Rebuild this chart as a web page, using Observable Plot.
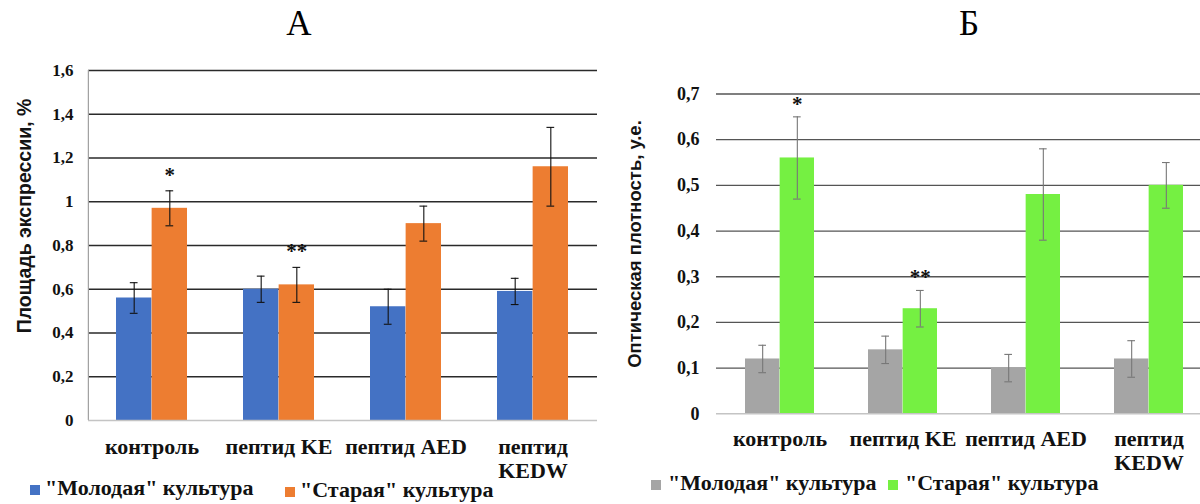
<!DOCTYPE html>
<html>
<head>
<meta charset="utf-8">
<script src="https://cdn.jsdelivr.net/npm/d3@7"></script>
<script src="https://cdn.jsdelivr.net/npm/@observablehq/plot@0.6"></script>
<style>
  html, body { margin: 0; padding: 0; background: #fff; overflow: hidden; }
  #root { position: relative; width: 1200px; height: 504px; overflow: hidden; background: #fff; }
  .panel { position: absolute; top: 58px; }
  .panel svg { max-width: none !important; display: block; }
  .title { position: absolute; top: 4px; font-family: 'Liberation Serif', 'Times New Roman', serif; font-size: 35px; line-height: 40px; color: #000; transform: translateX(-50%); }
  .ylabel { position: absolute; font-family: 'Liberation Sans', Arial, sans-serif; font-weight: bold; color: #141414; white-space: nowrap; transform: translate(-50%, -50%) rotate(-90deg); }
  .lgitem { position: absolute; display: flex; align-items: baseline; font-family: 'Liberation Serif', 'Times New Roman', serif; font-weight: bold; font-size: 22px; line-height: 22px; color: #111; white-space: nowrap; }
  .lgitem .sw { display: inline-block; width: 10px; height: 10px; }
</style>
</head>
<body>
<div id="root"></div>
<script>
// ---- data ----
const categories = ["контроль", "пептид KE", "пептид AED", "пептид KEDW"];
const categoryLabels = ["контроль", "пептид KE", "пептид AED", "пептид\nKEDW"];
const seriesNames = ['"Молодая" культура', '"Старая" культура'];

// Panel А: Площадь экспрессии, %
const youngA = [0.56, 0.60, 0.52, 0.59];
const youngAErr = [0.07, 0.06, 0.08, 0.06];
const oldA = [0.97, 0.62, 0.90, 1.16];
const oldAErr = [0.08, 0.08, 0.08, 0.18];
const sigA = ["*", "**", "", ""];
const yTicksA = [0, 0.2, 0.4, 0.6, 0.8, 1.0, 1.2, 1.4, 1.6];

// Panel Б: Оптическая плотность, у.е.
const youngB = [0.12, 0.14, 0.10, 0.12];
const youngBErr = [0.03, 0.03, 0.03, 0.04];
const oldB = [0.56, 0.23, 0.48, 0.50];
const oldBErr = [0.09, 0.04, 0.10, 0.05];
const sigB = ["*", "**", "", ""];
const yTicksB = [0, 0.1, 0.2, 0.3, 0.4, 0.5, 0.6, 0.7];

const titleA = "А";
const titleB = "Б";
const yLabelA = "Площадь экспрессии, %";
const yLabelB = "Оптическая плотность, у.е.";

const fmt = d => String(+d.toFixed(2)).replace(".", ",");

function rows(values, errs, sig) {
  return categories.map((c, i) => ({
    cat: c, value: values[i], lo: values[i] - errs[i], hi: values[i] + errs[i], sig: sig ? sig[i] : ""
  }));
}

function panel(o) {
  const pi = 0.44, po = 0.22;
  const W = o.width - o.ml - o.mr;
  const step = W / (categories.length - pi + 2 * po);
  const bw = step * (1 - pi);
  const half = bw / 2, q = bw / 4, cap = 4;
  const young = rows(o.young, o.youngErr);
  const old = rows(o.old, o.oldErr, o.sig);
  const marks = [
    Plot.ruleY(o.ticks.filter(t => t > 0), {stroke: o.grid, strokeWidth: 1.3}),
    Plot.barY(young, {x: "cat", y: "value", fill: o.colors[0], insetRight: half}),
    Plot.barY(old, {x: "cat", y: "value", fill: o.colors[1], insetLeft: half}),
    Plot.ruleY([0], {stroke: "#c4c4c4", strokeWidth: 1.5}),
    Plot.ruleX(young, {x: "cat", y1: "lo", y2: "hi", dx: -q, stroke: o.err, strokeWidth: 1.1}),
    Plot.ruleX(old, {x: "cat", y1: "lo", y2: "hi", dx: q, stroke: o.err, strokeWidth: 1.1}),
    Plot.tickY(young, {x: "cat", y: "hi", insetLeft: q - cap, insetRight: 3 * q - cap, stroke: o.err, strokeWidth: 1.1}),
    Plot.tickY(young, {x: "cat", y: "lo", insetLeft: q - cap, insetRight: 3 * q - cap, stroke: o.err, strokeWidth: 1.1}),
    Plot.tickY(old, {x: "cat", y: "hi", insetLeft: 3 * q - cap, insetRight: q - cap, stroke: o.err, strokeWidth: 1.1}),
    Plot.tickY(old, {x: "cat", y: "lo", insetLeft: 3 * q - cap, insetRight: q - cap, stroke: o.err, strokeWidth: 1.1}),
    Plot.text(old.filter(d => d.sig), {x: "cat", y: "hi", text: "sig", dx: q, dy: o.sigDy, lineAnchor: "middle", fontSize: 21, fontWeight: "bold", fill: "#111"}),
    Plot.axisY({ticks: o.ticks, tickFormat: fmt, tickSize: 0, tickPadding: o.tp, fontSize: o.tickFont, label: null}),
    Plot.axisX({tickSize: 0, tickPadding: o.xtp, fontSize: 22, label: null, lineHeight: 1.1,
      tickFormat: d => categoryLabels[categories.indexOf(d)]})
  ];
  if (o.leftLine) {
    marks.splice(1, 0, Plot.ruleX([categories[0]], {dx: -(half + po * step), y1: 0, y2: o.ticks[o.ticks.length - 1], stroke: "#a0a0a0", strokeWidth: 1.2}));
  }
  return Plot.plot({
    width: o.width, height: o.height,
    marginLeft: o.ml, marginRight: o.mr, marginTop: o.mt, marginBottom: o.mb,
    x: {domain: categories, paddingInner: pi, paddingOuter: po, label: null},
    y: {domain: [0, o.ticks[o.ticks.length - 1]], label: null},
    style: {fontFamily: "'Liberation Serif', 'Times New Roman', serif", fontWeight: "bold", color: "#111", background: "transparent", overflow: "visible"},
    marks
  });
}

const root = document.getElementById("root");

function addPanel(left, width, plotEl, title, titleX, ylabel, ylx, yly, ylFont, legendLefts, legendTops, colors, swGap) {
  const wrap = document.createElement("div");
  wrap.className = "panel";
  wrap.style.left = left + "px";
  wrap.style.width = width + "px";
  wrap.appendChild(plotEl);
  root.appendChild(wrap);

  const t = document.createElement("div");
  t.className = "title";
  t.style.left = titleX + "px";
  t.textContent = title;
  root.appendChild(t);

  const yl = document.createElement("div");
  yl.className = "ylabel";
  yl.style.left = ylx + "px";
  yl.style.top = yly + "px";
  yl.style.fontSize = ylFont + "px";
  yl.textContent = ylabel;
  root.appendChild(yl);

  seriesNames.forEach((s, i) => {
    const it = document.createElement("div");
    it.className = "lgitem";
    it.style.left = legendLefts[i] + "px";
    it.style.top = legendTops[i] + "px";
    const sw = document.createElement("span");
    sw.className = "sw";
    sw.style.background = colors[i];
    sw.style.marginRight = swGap + "px";
    const tx = document.createElement("span");
    tx.textContent = s;
    it.appendChild(sw); it.appendChild(tx);
    root.appendChild(it);
  });
}

const colorsA = ["#4472C4", "#ED7D31"];
const colorsB = ["#A5A5A5", "#75F042"];

const plotA = panel({
  width: 600, height: 420, ml: 88, mr: 3, mt: 12, mb: 58,
  young: youngA, youngErr: youngAErr, old: oldA, oldErr: oldAErr, sig: sigA,
  ticks: yTicksA, colors: colorsA, grid: "#2a2a2a", err: "#111", tp: 15, xtp: 16, tickFont: 17,
  sigDy: -16, leftLine: true
});
addPanel(0, 600, plotA, titleA, 299, yLabelA, 24, 216, 19.5, [30, 285], [477, 479], colorsA, 5);

const plotB = panel({
  width: 614, height: 420, ml: 116, mr: 3, mt: 35.5, mb: 64.7,
  young: youngB, youngErr: youngBErr, old: oldB, oldErr: oldBErr, sig: sigB,
  ticks: yTicksB, colors: colorsB, grid: "#555", err: "#777", tp: 17, xtp: 15, tickFont: 18,
  sigDy: -13, leftLine: false
});
addPanel(600, 614, plotB, titleB, 969, yLabelB, 635, 244, 18.5, [651, 888], [472, 472], colorsB, 7);
</script>
</body>
</html>
